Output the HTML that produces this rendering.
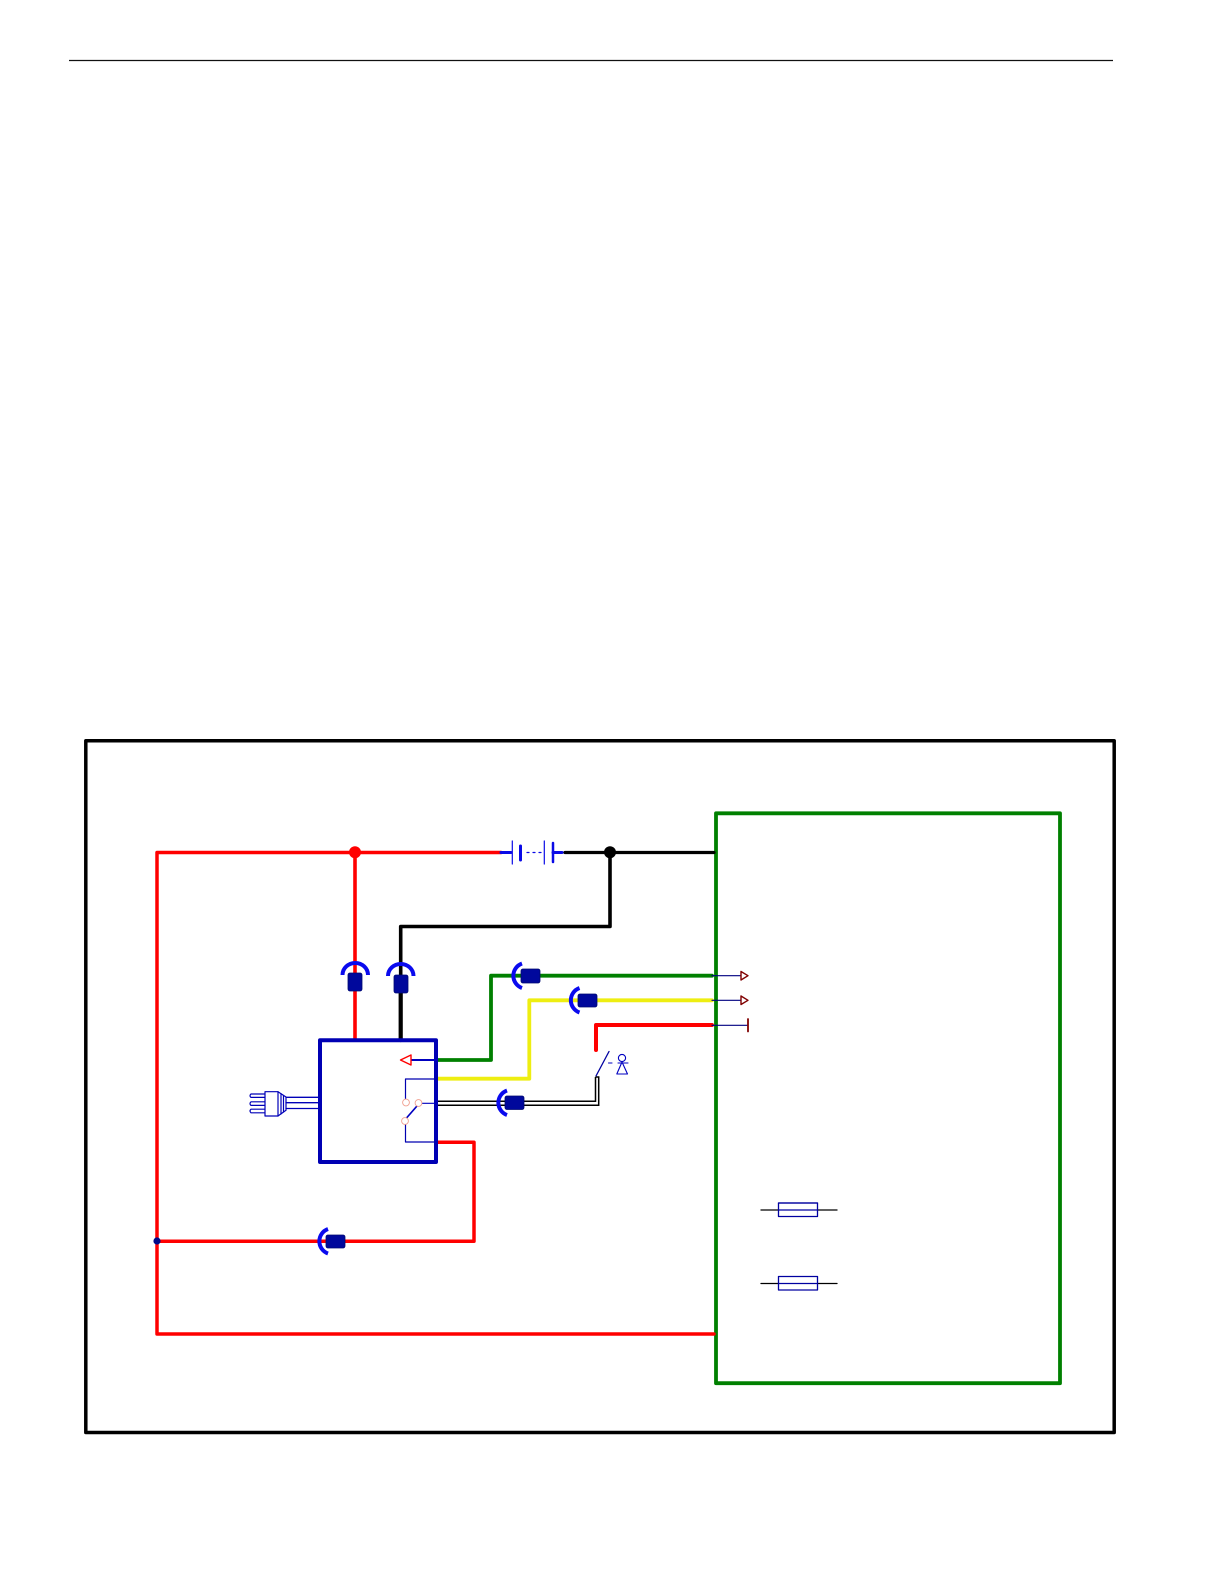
<!DOCTYPE html>
<html><head><meta charset="utf-8"><title>Wiring diagram</title>
<style>html,body{margin:0;padding:0;background:#fff}svg{display:block}</style></head>
<body>
<svg width="1224" height="1584" viewBox="0 0 1224 1584" xmlns="http://www.w3.org/2000/svg" fill="none" stroke-linejoin="round" stroke-linecap="round">
<line x1="69" y1="60.5" x2="1113" y2="60.5" stroke="#111" stroke-width="1.3" stroke-linecap="butt"/>
<rect x="85.8" y="740.8" width="1028.4" height="691.7" stroke="#000" stroke-width="3.5"/>
<rect x="716" y="813.300" width="344" height="569.900" stroke="#008000" stroke-width="3.8"/>

<!-- red main -->
<path d="M501 852.500H157V1334H714" stroke="#f00" stroke-width="3.500"/>
<path d="M355 852.500V1040" stroke="#f00" stroke-width="3.600"/>
<circle cx="355" cy="852.300" r="6" fill="#f00"/>
<path d="M436 1142.300H474V1241.300H157" stroke="#f00" stroke-width="3.500"/>
<circle cx="157" cy="1241" r="3.600" fill="#000a8a"/>

<!-- black -->
<path d="M565 852.500H714" stroke="#000" stroke-width="3.200"/>
<circle cx="610" cy="852.300" r="6" fill="#000"/>
<path d="M610 852.500V926.500H400.700V975" stroke="#000" stroke-width="3.600"/>
<path d="M400.700 990V1040" stroke="#000" stroke-width="4.200"/>

<!-- battery -->
<g stroke="#0a0ae6">
<path d="M501 852.500H511" stroke-width="3"/>
<path d="M512.300 841V864" stroke-width="1.200"/>
<path d="M520.500 846V860" stroke-width="3"/>
<path d="M527 852.500H529M533 852.500H535M539 852.500H541" stroke-width="1.200"/>
<path d="M544.300 841V864" stroke-width="1.200"/>
<path d="M553 843V862" stroke-width="2.500"/>
<path d="M553 852.500H562" stroke-width="3"/>
</g>

<!-- green, yellow, red wires -->
<path d="M437 1060H491V975.700H712" stroke="#008000" stroke-width="3.800"/>
<path d="M437 1078.700H529.300V1000.300H712" stroke="#eeee11" stroke-width="3.800"/>
<path d="M596 1050V1025H712" stroke="#f00" stroke-width="4"/>

<!-- stubs -->
<g stroke="#000080" stroke-width="1.200">
<path d="M712 975.700H741M712 1000.300H741M712 1025.300H747"/>
</g>
<g stroke="#800000" stroke-width="1.400">
<path d="M741 971.500L748 975.700L741 980Z" fill="#fff"/>
<path d="M741 996L748 1000.300L741 1004.500Z" fill="#fff"/>
<path d="M748 1019V1031.500" stroke-width="1.800"/>
</g>

<!-- switch -->
<path d="M596 1076L609 1051.500" stroke="#0000a0" stroke-width="1.300"/>
<path d="M608.500 1063H612M618 1063H628" stroke="#0000c0" stroke-width="1.100"/>
<circle cx="622" cy="1058" r="3.600" stroke="#0000c0" stroke-width="1.100" fill="#fff"/>
<path d="M622 1062L616.800 1074H627.500Z" stroke="#0000c0" stroke-width="1.100"/>
<path d="M436 1101.300H595.500V1077M436 1105.300H598.700V1077H595.500" stroke="#000" stroke-width="1.500" stroke-linecap="butt" stroke-linejoin="miter"/>

<!-- blue box -->
<rect x="320" y="1040.300" width="116" height="121.700" stroke="#0000b4" stroke-width="4"/>
<path d="M437 1060H411" stroke="#0000c0" stroke-width="2"/>
<path d="M411 1055L400.500 1060L411 1065Z" stroke="#f00" stroke-width="1.400" fill="#fff"/>
<path d="M436 1079H405.500V1098.500M405.500 1124.500V1142H436" stroke="#0000b0" stroke-width="1.200"/>
<path d="M422 1103.300H436" stroke="#0000c0" stroke-width="1.200"/>
<path d="M406.500 1118L417 1106" stroke="#0000c0" stroke-width="1.700"/>
<g stroke="#f0a090" stroke-width="0.900" fill="#fff">
<circle cx="406" cy="1102.500" r="3.400"/>
<circle cx="418.500" cy="1103" r="3.400"/>
<circle cx="405" cy="1121" r="3.400"/>
</g>

<!-- plug -->
<g stroke="#0000b8" stroke-width="1.200">
<path d="M265 1094H251Q249 1095.700 251 1097.400H265M265 1101.800H251Q249 1103.600 251 1105.400H265M265 1109.200H251Q249 1111 251 1112.800H265"/>
<path d="M265 1091.700H278V1116H265Z" fill="#fff"/>
<path d="M278 1091.700L286 1097V1110.300L278 1116"/>
<path d="M281 1093.700V1114M283.500 1095.500V1112"/>
<path d="M286 1097.300H319M286 1102.700H319M286 1108.500H319" stroke-width="1.300"/>
</g>

<!-- connectors -->
<g fill="#00089c" stroke="#000a70" stroke-width="0.800">
<rect x="348" y="973" width="14" height="18" rx="2"/>
<rect x="394" y="975" width="14" height="18" rx="2"/>
<rect x="521" y="969" width="19" height="14" rx="2"/>
<rect x="578" y="994" width="19" height="13" rx="2"/>
<rect x="505" y="1096" width="19" height="13.500" rx="2"/>
<rect x="326" y="1235" width="19" height="13" rx="2"/>
</g>
<g stroke="#0a0aee" stroke-width="4" stroke-linecap="butt">
<path d="M342.500 975A12.700 12 0 0 1 368 975"/>
<path d="M388 976A12.700 12 0 0 1 413.500 976"/>
<path d="M522 963.500A13 13 0 0 0 522 988"/>
<path d="M579.500 988A13 13 0 0 0 579.500 1012.500"/>
<path d="M507 1090.500A13 13 0 0 0 507 1115"/>
<path d="M328 1229A13 13 0 0 0 328 1253.500"/>
</g>

<!-- fuses -->
<path d="M761 1210H778M817.500 1210H837M761 1283.500H778M817.500 1283.500H837" stroke="#000" stroke-width="1.300"/>
<g stroke="#0000a0" stroke-width="1.300">
<rect x="778.500" y="1203" width="39" height="13.500"/>
<path d="M778.500 1210H817.500M778.500 1203H817.500"/>
<rect x="778.500" y="1276.500" width="39" height="13.500"/>
<path d="M778.500 1283.500H817.500"/>
</g>
</svg>
</body></html>
